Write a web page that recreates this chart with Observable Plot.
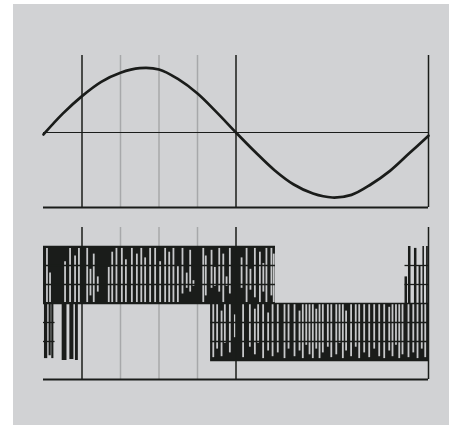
<!DOCTYPE html>
<html>
<head>
<meta charset="utf-8">
<script src="https://cdn.jsdelivr.net/npm/d3@7"></script>
<script src="https://cdn.jsdelivr.net/npm/@observablehq/plot@0.6"></script>
<style>
  html, body { margin: 0; padding: 0; background: #ffffff; width: 449px; height: 425px; overflow: hidden; }
  #panel { position: absolute; left: 13px; top: 4px; right: 0; bottom: 0; background: #d1d2d4; }
  #top, #bottom { position: absolute; left: 0; }
  #top { top: 0; }
  #bottom { top: 212px; }
  svg { overflow: visible; }
</style>
</head>
<body>
<div id="panel"></div>
<div id="top"></div>
<div id="bottom"></div>
<script>
// ---------- data (time in ms over one 20 ms period) ----------
const xDomain = [0, 20];
const gridLight = [4, 6, 8];
const gridDark = [2, 10, 20];

// top panel: sine reference
const sineT = [0,1,2,3,4,5,6,7,8,9,10,11,12,13,14,15,16,17,18,19,20];
const sineV = [-0.03,0.29,0.56,0.78,0.92,0.99,0.97,0.82,0.60,0.31,0.0,-0.30,-0.58,-0.80,-0.94,-1.0,-0.96,-0.80,-0.59,-0.32,-0.05];
const topYDomain = [-1.154, 1.185];

// bottom panel: switched output, levels 0..6
const botYDomain = [-1, 7];
const bandFrom = [0, 8.68];
const bandTo   = [12.05, 20];
const bandLo   = [3, 0];
const bandHi   = [6, 3];

// lower-left excursions
const leftBarFrom = [0.05, 0.29, 0.43, 0.97, 1.37, 1.66];
const leftBarTo   = [0.22, 0.40, 0.54, 1.22, 1.58, 1.81];
const leftBarLo   = [0.1, 0.25, 0.1, 0.0, 0.05, 0.0];

// right-end spikes
const spikeFrom = [18.78, 18.96, 19.27, 19.51, 19.71, 19.90];
const spikeTo   = [18.91, 19.09, 19.40, 19.61, 19.79, 19.99];
const spikeHi   = [4.4, 6.0, 5.9, 5.0, 6.0, 6.0];

// gaps in the upper band
const upperGapT  = [0.18,0.34,1.12,1.38,1.64,1.84,2.27,2.44,2.61,2.82,3.39,3.57,3.79,4.07,4.28,4.59,4.85,5.08,5.28,5.54,5.80,6.06,6.32,6.53,6.75,6.98,7.22,7.44,7.62,7.79,8.30,8.43,8.73,8.90,9.13,9.34,9.51,9.68,10.29,10.55,10.75,10.98,11.24,11.42,11.58,11.84,11.96];
const upperGapLo = [3.05,3.05,3.05,3.05,3.05,3.05,3.05,3.4,3.05,3.6,3.05,3.05,3.05,3.05,3.05,3.05,3.05,3.05,3.05,3.05,3.05,3.05,3.05,3.05,3.05,3.05,3.5,3.8,3.6,3.9,3.05,3.4,3.8,3.9,3.6,3.05,3.9,3.5,3.8,3.05,3.7,3.3,3.05,3.6,3.05,3.4,3.05];
const upperGapHi = [5.9,4.6,5.2,5.9,5.5,5.9,5.9,4.8,5.6,4.4,4.9,5.7,5.9,5.9,5.3,5.9,5.6,5.9,5.4,5.9,5.9,5.2,5.9,5.7,5.9,5.0,5.9,4.6,5.8,4.2,5.9,5.5,5.8,4.9,5.9,5.6,4.4,5.9,5.4,5.9,4.8,5.9,5.7,5.1,5.9,5.9,5.6];

// gaps in the lower band
const lowerGapT  = [8.82,9.02,9.25,9.42,9.68,9.94,10.37,10.72,10.98,11.15,11.41,11.67,11.90,12.17,12.52,12.73,13.04,13.30,13.47,13.65,13.82,13.99,14.17,14.34,14.51,14.77,14.95,15.21,15.38,15.55,15.72,15.98,16.22,16.40,16.66,16.92,17.18,17.44,17.70,17.96,18.13,18.31,18.48,18.65,18.96,19.21,19.43,19.65,19.83];
const lowerGapLo = [0.15,0.6,0.2,0.9,0.4,1.2,0.15,0.7,0.3,0.9,0.1,0.5,0.2,0.4,0.1,0.6,0.2,0.5,0.1,0.8,0.3,0.1,0.6,0.1,0.4,0.7,0.15,0.3,0.9,0.1,0.5,0.2,0.7,0.1,0.4,0.15,0.6,0.2,0.1,0.5,0.2,0.8,0.1,0.3,0.15,0.4,0.1,0.6,0.15];
const lowerGapHi = [2.95,2.95,2.6,2.95,2.95,2.4,2.95,2.95,2.7,2.95,2.95,2.5,2.95,2.95,2.95,2.95,2.95,2.6,2.95,2.95,2.95,2.95,2.7,2.95,2.95,2.95,2.95,2.95,2.95,2.95,2.6,2.95,2.95,2.95,2.95,2.95,2.95,2.95,2.95,2.8,2.95,2.95,2.95,2.95,2.95,2.95,2.95,2.95,2.95];

// horizontal level segments of the staircase
const levelY    = [6, 5, 4, 5, 4, 3, 2, 1, 2, 1, 0];
const levelFrom = [0, 0, 0, 18.78, 18.78, 0, 0, 0, 8.68, 8.68, 8.68];
const levelTo   = [12.05, 12.05, 12.05, 20, 20, 20, 0.6, 0.6, 20, 20, 20];

// ---------- styling ----------
const DARK = "#1a1c1a";
const LIGHT = "#a7a8aa";
const GAP = "#c7c8ca";

// ---------- build tables ----------
const sine = sineT.map((t, i) => ({t, v: sineV[i]}));
const bands = bandFrom.map((f, i) => ({x1: f, x2: bandTo[i], y1: bandLo[i], y2: bandHi[i]}));
const leftBars = leftBarFrom.map((f, i) => ({x1: f, x2: leftBarTo[i], y1: leftBarLo[i], y2: 3}));
const spikes = spikeFrom.map((f, i) => ({x1: f, x2: spikeTo[i], y1: 3, y2: spikeHi[i]}));
const upperGaps = upperGapT.map((t, i) => ({t, lo: upperGapLo[i], hi: upperGapHi[i]}));
const lowerGaps = lowerGapT.map((t, i) => ({t, lo: lowerGapLo[i], hi: lowerGapHi[i]}));
const levels = levelY.map((y, i) => ({y, from: levelFrom[i], to: levelTo[i]}));

const topPlot = Plot.plot({
  width: 449, height: 212,
  marginLeft: 43, marginRight: 21, marginTop: 55, marginBottom: 5,
  x: {domain: xDomain, axis: null},
  y: {domain: topYDomain, axis: null},
  style: {background: "transparent"},
  marks: [
    Plot.ruleX(gridLight, {stroke: LIGHT, strokeWidth: 1.5}),
    Plot.ruleX(gridDark, {stroke: DARK, strokeWidth: 1.5}),
    Plot.ruleY([0], {stroke: DARK, strokeWidth: 1.2}),
    Plot.ruleY([topYDomain[0]], {stroke: DARK, strokeWidth: 2}),
    Plot.line(sine, {x: "t", y: "v", curve: "catmull-rom", stroke: DARK, strokeWidth: 2.7})
  ]
});
document.getElementById("top").appendChild(topPlot);

const botPlot = Plot.plot({
  width: 449, height: 213,
  marginLeft: 43, marginRight: 21, marginTop: 15, marginBottom: 46,
  x: {domain: xDomain, axis: null},
  y: {domain: botYDomain, axis: null},
  style: {background: "transparent"},
  marks: [
    Plot.ruleX(gridLight, {stroke: LIGHT, strokeWidth: 1.5}),
    Plot.rect(bands, {x1: "x1", x2: "x2", y1: "y1", y2: "y2", fill: DARK}),
    Plot.rect(leftBars, {x1: "x1", x2: "x2", y1: "y1", y2: "y2", fill: DARK}),
    Plot.rect(spikes, {x1: "x1", x2: "x2", y1: "y1", y2: "y2", fill: DARK}),
    Plot.ruleX(upperGaps, {x: "t", y1: "lo", y2: "hi", stroke: GAP, strokeWidth: 1.8}),
    Plot.ruleX(lowerGaps, {x: "t", y1: "lo", y2: "hi", stroke: GAP, strokeWidth: 1.8}),
    Plot.ruleY(levels, {y: "y", x1: "from", x2: "to", stroke: DARK, strokeWidth: 1.3}),
    Plot.ruleX(gridDark, {stroke: DARK, strokeWidth: 1.5}),
    Plot.ruleY([botYDomain[0]], {stroke: DARK, strokeWidth: 2})
  ]
});
document.getElementById("bottom").appendChild(botPlot);
</script>
</body>
</html>
